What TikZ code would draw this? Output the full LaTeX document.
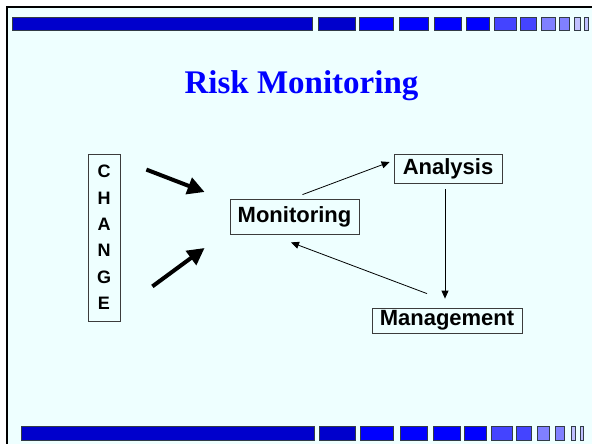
\documentclass[tikz,border=0pt]{standalone}
\usepackage{fontspec}
\setmainfont{Liberation Serif}
\newfontfamily\arialfont{Liberation Sans}
\usepackage{tikz}
\usetikzlibrary{arrows.meta,calc}

\definecolor{slidebg}{RGB}{238,255,255}
\definecolor{bardark}{RGB}{0,0,204}
\definecolor{barblue}{RGB}{0,0,255}
\definecolor{barmid}{RGB}{68,68,255}
\definecolor{barlight}{RGB}{128,128,255}
\definecolor{barpale}{RGB}{192,192,255}
\definecolor{barline}{RGB}{50,60,70}
\definecolor{boxline}{RGB}{60,60,60}

\begin{document}
\begin{tikzpicture}[x=1pt, y=-1pt,
  every node/.style={font=\arialfont\bfseries\fontsize{22}{26}\selectfont},
  box/.style={draw=boxline, line width=0.8pt, inner sep=0pt},
  barbox/.style={draw=barline, line width=0.8pt},
  bigarrow/.style={line width=4pt, -{Triangle[length=17pt,width=17pt]}},
  thinarrow/.style={line width=0.8pt, -{Triangle[length=8pt,width=7pt]}}]
  \useasboundingbox (0,0) rectangle (592,444);
  \fill[white] (0,0) rectangle (592,444);
  \fill[slidebg] (7,7) rectangle (592,444);
  \draw[line width=2.5pt] (7,444) -- (7,7) -- (592,7);

  \foreach \xa/\xb/\c in {12/312/bardark, 318/355/bardark, 359/393/barblue, 399/428/barblue,
      434/461/barblue, 466/489/barblue, 494/516/barmid, 520/536/barmid,
      541/555/barlight, 559/569/barlight, 574/580/barpale, 584/588/barpale}
    \filldraw[barbox, fill=\c] (\xa,17) rectangle (\xb,30);
  \foreach \xa/\xb/\c in {21/314/bardark, 319/355/bardark, 360/393/barblue, 400/427/barblue,
      433/460/barblue, 464/486/barblue, 491/512/barmid, 516/531/barmid,
      537/549/barlight, 555/564/barlight, 571/575/barpale, 580/583/barpale}
    \filldraw[barbox, fill=\c] (\xa,426) rectangle (\xb,440);

  \node[font=\rmfamily\bfseries\fontsize{33}{39}\selectfont, text=blue, anchor=base] (title) at (301.5,94) {Risk Monitoring};

  \node[box, minimum width=32pt, minimum height=167pt, align=center,
        font=\arialfont\bfseries\fontsize{18}{26.4}\selectfont] (change) at (104,237.5) {C\\H\\A\\N\\G\\E};
  \node[box, minimum width=129pt, minimum height=35pt] (monitoring) at (294.5,216.5) {Monitoring};
  \node[box, minimum width=108pt, minimum height=29pt] (analysis) at (448,168.5) {Analysis};
  \node[box, minimum width=150pt, minimum height=25pt] (management) at (447,320.5) {Management};

  \draw[bigarrow] ($(change.north east)+(26,16)$) -- ($(monitoring.west)+(-25,-24.5)$);
  \draw[bigarrow] ($(change.south east)+(32,-35)$) -- ($(monitoring.west)+(-25,31.5)$);

  \draw[thinarrow] ($(monitoring.north)+(8,-4)$) -- ($(analysis.west)+(-4,-6.5)$);
  \draw[thinarrow] ($(analysis.south)+(-3,6)$) -- ($(management.north)+(-2,-9)$);
  \draw[thinarrow] ($(management.north)+(-20,-14)$) -- ($(monitoring.south)+(-3.5,8)$);
\end{tikzpicture}
\end{document}
